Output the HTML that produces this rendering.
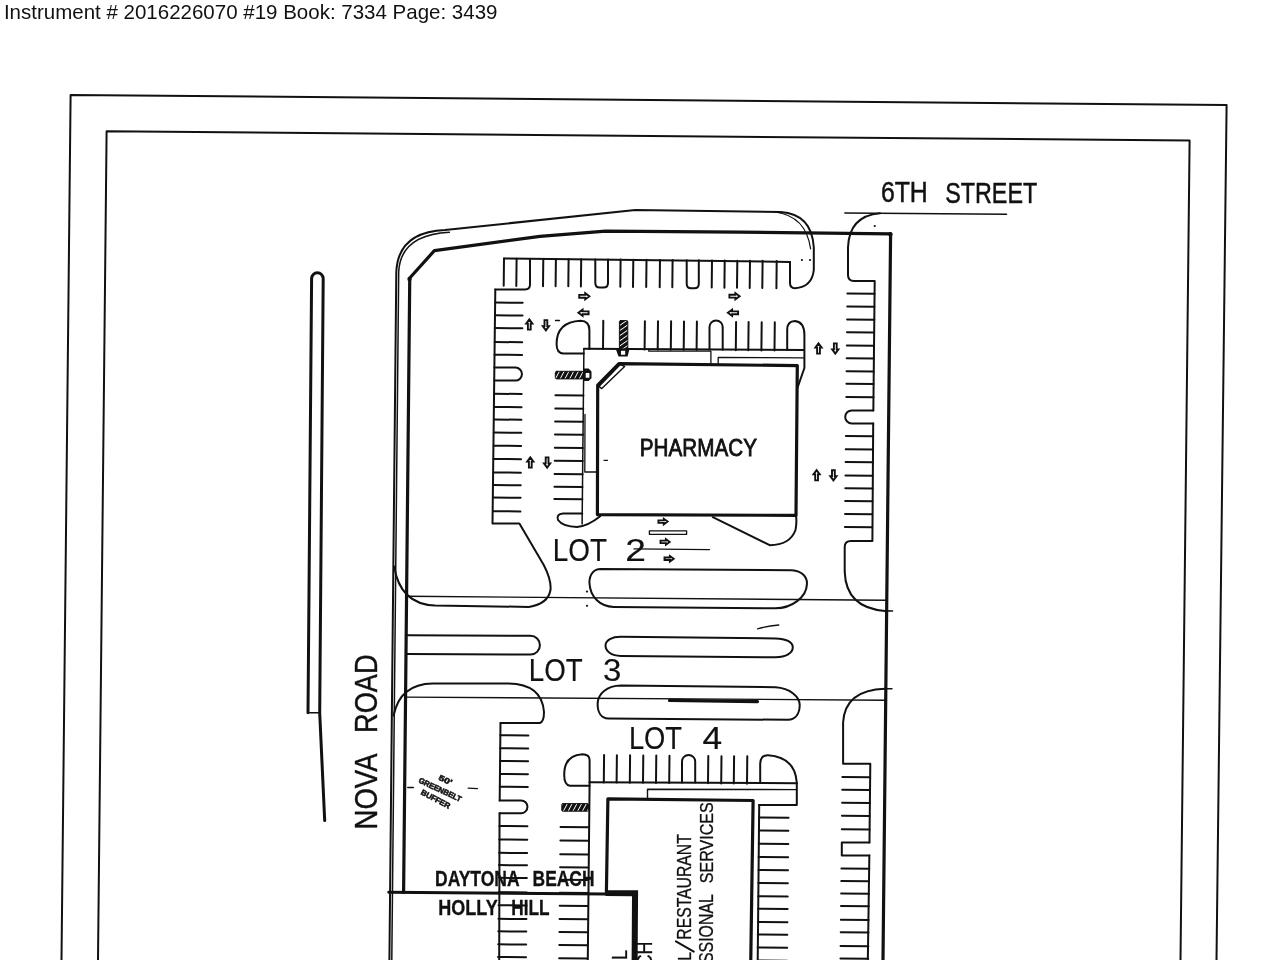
<!DOCTYPE html>
<html><head><meta charset="utf-8"><style>
html,body{margin:0;padding:0;background:#fff;}
body{width:1280px;height:960px;overflow:hidden;}
svg{display:block;filter:grayscale(1);}
</style></head><body>
<svg width="1280" height="960" viewBox="0 0 1280 960">
<defs>
<pattern id="hatchH" patternUnits="userSpaceOnUse" width="4.2" height="4.2" patternTransform="rotate(28)"><rect width="4.2" height="4.2" fill="#111"/><rect x="0" y="0" width="0.9" height="4.2" fill="#fff"/></pattern>
<pattern id="hatchV" patternUnits="userSpaceOnUse" width="4.2" height="4.2" patternTransform="rotate(55)"><rect width="4.2" height="4.2" fill="#111"/><rect x="0" y="0" width="0.9" height="4.2" fill="#fff"/></pattern>
</defs>
<rect width="1280" height="960" fill="#fff"/>
<text x="3.9" y="19.1" font-family="Liberation Sans, sans-serif" font-size="20.2" fill="#111" stroke="none" textLength="493.6" lengthAdjust="spacingAndGlyphs">Instrument # 2016226070 #19 Book: 7334 Page: 3439</text>
<g fill="none" stroke="#111" stroke-linecap="round" stroke-linejoin="round">
<path d="M61.5 960 L70.6 95 L1226.6 105 L1216.5 960" stroke-width="2" fill="none"/>
<path d="M98 960 L106.6 131.2 L1189.6 140.6 L1180.5 960" stroke-width="2" fill="none"/>
<path d="M308 712.8 L311.6 278.6 A5.8 5.8 0 0 1 323.2 278.6 L319.7 712.8 L324.7 820.6" stroke-width="3" fill="none"/>
<line x1="308" y1="712.8" x2="319.7" y2="712.8" stroke-width="1.6"/>
<path d="M389.4 960 L396.3 272 Q398 232 445 230 L635.3 210 L780.6 211.9 Q812 214 813.8 247.5 L813.8 270 Q812 287 795 288.3 Q790 288 790 283 L790 261.9" stroke-width="2" fill="none"/>
<path d="M391.8 960 L398.7 272 Q400.3 235 449.4 232.3" stroke-width="1.5" fill="none"/>
<path d="M775 212 Q806 216 810.6 248.8" stroke-width="1.2" fill="none"/>
<path d="M403.6 892.4 L409.75 278 L434.4 250.6 L540 236.4 L605.6 231.2 L740 232.2 L890.6 233.8 L883 960" stroke-width="3.2" fill="none"/>
<circle cx="409.5" cy="279" r="2.2" fill="#111" stroke="none"/>
<circle cx="890.4" cy="234.2" r="2.2" fill="#111" stroke="none"/>
<line x1="407" y1="596.3" x2="886" y2="600.2" stroke-width="1.4"/>
<line x1="406" y1="697.1" x2="885" y2="700.2" stroke-width="1.4"/>
<line x1="885.5" y1="610.9" x2="892.5" y2="611" stroke-width="1.6"/>
<line x1="885" y1="688.75" x2="891.9" y2="688.75" stroke-width="1.6"/>
<line x1="503.9" y1="258.5" x2="790" y2="261.9" stroke-width="2"/>
<line x1="504" y1="258.6" x2="503.71" y2="285.8" stroke-width="2"/>
<line x1="516.6" y1="258.71" x2="516.31" y2="285.91" stroke-width="2"/>
<line x1="543.3" y1="258.94" x2="543.01" y2="286.14" stroke-width="2"/>
<line x1="555.9" y1="259.05" x2="555.61" y2="286.25" stroke-width="2"/>
<line x1="568.6" y1="259.16" x2="568.31" y2="286.36" stroke-width="2"/>
<line x1="581.2" y1="259.27" x2="580.91" y2="286.47" stroke-width="2"/>
<line x1="620.6" y1="259.61" x2="620.31" y2="286.81" stroke-width="2"/>
<line x1="633.3" y1="259.72" x2="633.01" y2="286.92" stroke-width="2"/>
<line x1="646.5" y1="259.84" x2="646.21" y2="287.04" stroke-width="2"/>
<line x1="660" y1="259.96" x2="659.71" y2="287.16" stroke-width="2"/>
<line x1="672.6" y1="260.07" x2="672.31" y2="287.27" stroke-width="2"/>
<line x1="712" y1="260.41" x2="711.71" y2="287.61" stroke-width="2"/>
<line x1="724.7" y1="260.52" x2="724.41" y2="287.72" stroke-width="2"/>
<line x1="737.3" y1="260.63" x2="737.01" y2="287.83" stroke-width="2"/>
<line x1="750" y1="260.74" x2="749.71" y2="287.94" stroke-width="2"/>
<line x1="762.6" y1="260.85" x2="762.31" y2="288.05" stroke-width="2"/>
<line x1="776.7" y1="260.97" x2="776.41" y2="288.17" stroke-width="2"/>
<path d="M595.3 259.39 L595.3 282.89 Q595.3 287.39 599.8 287.39 L603.5 287.5 Q608 287.5 608 283 L608 259.5" stroke-width="2" fill="none"/>
<path d="M686.7 260.19 L686.7 283.69 Q686.7 288.19 691.2 288.19 L694.3 288.29 Q698.8 288.29 698.8 283.79 L698.8 260.29" stroke-width="2" fill="none"/>
<path d="M530 259.8 L530 284.5 Q530 289.4 525 289.4 L495.3 289.5" stroke-width="2" fill="none"/>
<path d="M495.3 289.5 L492.5 523.5 L519.4 523.5 L543.75 565 Q551.5 580 550.5 590 Q548 604 528.75 606.9 L435 605.6 Q400 604 394.2 566.5" stroke-width="2" fill="none"/>
<line x1="495.16" y1="302.6" x2="522.66" y2="302.84" stroke-width="2"/>
<line x1="495.03" y1="315.3" x2="522.53" y2="315.54" stroke-width="2"/>
<line x1="494.89" y1="328.1" x2="522.39" y2="328.34" stroke-width="2"/>
<line x1="494.75" y1="342" x2="522.25" y2="342.24" stroke-width="2"/>
<line x1="494.62" y1="354.7" x2="522.12" y2="354.94" stroke-width="2"/>
<line x1="494.21" y1="393.75" x2="521.71" y2="393.99" stroke-width="2"/>
<line x1="494.07" y1="406.9" x2="521.57" y2="407.14" stroke-width="2"/>
<line x1="493.94" y1="419.5" x2="521.43" y2="419.74" stroke-width="2"/>
<line x1="493.8" y1="432.6" x2="521.3" y2="432.84" stroke-width="2"/>
<line x1="493.66" y1="445.7" x2="521.16" y2="445.94" stroke-width="2"/>
<line x1="493.52" y1="458.9" x2="521.02" y2="459.14" stroke-width="2"/>
<line x1="493.38" y1="472.4" x2="520.88" y2="472.64" stroke-width="2"/>
<line x1="493.25" y1="485.1" x2="520.75" y2="485.34" stroke-width="2"/>
<line x1="493.12" y1="497.5" x2="520.62" y2="497.74" stroke-width="2"/>
<line x1="492.97" y1="511.2" x2="520.47" y2="511.44" stroke-width="2"/>
<path d="M494.41 367.5 L515.41 367.5 A6.5 6.5 0 0 1 515.41 380.6 L494.41 380.6" stroke-width="2" fill="none"/>
<line x1="583.9" y1="348.8" x2="582.1" y2="524" stroke-width="1.5"/>
<line x1="583.41" y1="395.6" x2="555.41" y2="395.36" stroke-width="2"/>
<line x1="583.27" y1="408.7" x2="555.27" y2="408.46" stroke-width="2"/>
<line x1="583.13" y1="421.7" x2="555.13" y2="421.46" stroke-width="2"/>
<line x1="583" y1="434.8" x2="555" y2="434.56" stroke-width="2"/>
<line x1="582.86" y1="447.9" x2="554.86" y2="447.66" stroke-width="2"/>
<line x1="582.72" y1="461" x2="554.72" y2="460.76" stroke-width="2"/>
<line x1="582.58" y1="474.2" x2="554.58" y2="473.96" stroke-width="2"/>
<line x1="582.45" y1="486.9" x2="554.45" y2="486.66" stroke-width="2"/>
<line x1="582.32" y1="499.3" x2="554.32" y2="499.06" stroke-width="2"/>
<path d="M583.8 353.4 L563 353.4 Q556.6 353 556.6 344 Q556.6 322 580.6 320.8 Q589.4 321 589.4 330 L589.4 349" stroke-width="2" fill="none"/>
<rect x="555.3" y="371.3" width="28" height="7.6" rx="1.5" fill="url(#hatchH)" stroke="#111" stroke-width="1"/>
<path d="M583.4 368.6 L588.6 368.6 L591.5 371.5 L591.5 378.2 L588.6 381 L583.4 381 Z M585.7 373 L585.7 377.7 L589.4 377.7 L589.4 373 Z" fill="#111" fill-rule="evenodd" stroke="none"/>
<path d="M582.3 513.6 L563 513.6 Q556 514 558 520 Q563 526.8 577 527 Q588 526 600.2 516.2" stroke-width="2" fill="none"/>
<path d="M585 414.4 L584.8 472 L597 472" stroke-width="1.3" fill="none"/>
<line x1="583.9" y1="348.8" x2="804" y2="349.9" stroke-width="2"/>
<line x1="603" y1="349.07" x2="603.3" y2="320.77" stroke-width="2"/>
<line x1="644.6" y1="349.43" x2="644.9" y2="321.13" stroke-width="2"/>
<line x1="657.7" y1="349.54" x2="658" y2="321.24" stroke-width="2"/>
<line x1="670.8" y1="349.66" x2="671.1" y2="321.36" stroke-width="2"/>
<line x1="683.7" y1="349.77" x2="684" y2="321.47" stroke-width="2"/>
<line x1="696.6" y1="349.88" x2="696.9" y2="321.58" stroke-width="2"/>
<line x1="735.8" y1="350.22" x2="736.1" y2="321.92" stroke-width="2"/>
<line x1="748.3" y1="350.33" x2="748.6" y2="322.03" stroke-width="2"/>
<line x1="761.4" y1="350.44" x2="761.7" y2="322.14" stroke-width="2"/>
<line x1="774.5" y1="350.56" x2="774.8" y2="322.26" stroke-width="2"/>
<rect x="619.4" y="320.6" width="8.4" height="28.6" rx="1" fill="url(#hatchV)" stroke="#111" stroke-width="1"/>
<path d="M615.6 348.6 L629.6 348.6 L627.6 356.6 L618.5 356.6 Z M621 350.7 L621 354.7 L625.2 354.7 L625.2 350.7 Z" fill="#111" fill-rule="evenodd" stroke="none"/>
<path d="M709.5 349.6 L709.5 327 A6.6 6.6 0 0 1 722.7 327 L722.7 349.7" stroke-width="2" fill="none"/>
<path d="M787.2 349.8 L787.2 330 Q787.2 321 795 321 Q804.4 322 804.4 335 L804.4 368 L797.6 387.5" stroke-width="2" fill="none"/>
<path d="M648.8 349.3 L648.8 351.2 L710.9 351.2 L710.9 364" stroke-width="1.3" fill="none"/>
<path d="M718.2 364.5 L718.2 357.4 L804.2 357.9" stroke-width="1.3" fill="none"/>
<path d="M797.3 365.6 L618.9 363.6 L597.7 385.2 L597.4 514.6 L796 515.4 Z" stroke-width="3.2" fill="none"/>
<path d="M620.3 364.6 L624.6 366.4 L601.8 388.6 L598.9 386.4 Z" stroke-width="1.4" fill="none"/>
<path d="M712.8 517.2 L769.7 545.2 Q790 545 795.5 530 Q797 522 796 515.6" stroke-width="2" fill="none"/>
<path d="M880 213.2 Q849 216 848 247.5 L848 275 Q848 281 854 281 L874.7 281 L873.34 410.4" stroke-width="2" fill="none"/>
<path d="M873.2 423.5 L872.4 541 L851 541 Q844.7 541 844.7 547 L844.7 571.9 Q846 608 885 610.9" stroke-width="2" fill="none"/>
<line x1="874.57" y1="293.75" x2="847.37" y2="293.51" stroke-width="2"/>
<line x1="874.43" y1="306.8" x2="847.23" y2="306.56" stroke-width="2"/>
<line x1="874.29" y1="319.8" x2="847.09" y2="319.56" stroke-width="2"/>
<line x1="874.16" y1="332.5" x2="846.96" y2="332.26" stroke-width="2"/>
<line x1="874.02" y1="345.7" x2="846.82" y2="345.46" stroke-width="2"/>
<line x1="873.89" y1="358.4" x2="846.69" y2="358.16" stroke-width="2"/>
<line x1="873.75" y1="371.6" x2="846.55" y2="371.36" stroke-width="2"/>
<line x1="873.62" y1="384.1" x2="846.42" y2="383.86" stroke-width="2"/>
<line x1="873.48" y1="397.3" x2="846.28" y2="397.06" stroke-width="2"/>
<line x1="873.07" y1="436.3" x2="845.87" y2="436.06" stroke-width="2"/>
<line x1="872.93" y1="449.4" x2="845.73" y2="449.16" stroke-width="2"/>
<line x1="872.8" y1="462.2" x2="845.6" y2="461.96" stroke-width="2"/>
<line x1="872.66" y1="475.7" x2="845.46" y2="475.46" stroke-width="2"/>
<line x1="872.52" y1="488.4" x2="845.32" y2="488.16" stroke-width="2"/>
<line x1="872.39" y1="501.2" x2="845.19" y2="500.96" stroke-width="2"/>
<line x1="872.25" y1="514.3" x2="845.05" y2="514.06" stroke-width="2"/>
<line x1="872.11" y1="527.3" x2="844.91" y2="527.06" stroke-width="2"/>
<path d="M873.27 410.4 L851.77 410.4 A6.5 6.5 0 0 0 851.77 423.5 L873.27 423.5" stroke-width="2" fill="none"/>
<line x1="844.9" y1="213" x2="1006.5" y2="214.3" stroke-width="1.6"/>
<path d="M600.6 569 L791.9 570.3 C802 571 807.5 577 806.9 584.4 C806.5 597 792 608.4 775 608.3 L613.75 606.9 C600 606.5 590 597 589.4 582.5 C589.5 574 594 569 600.6 569 Z" stroke-width="2" fill="none"/>
<path d="M620.9 636.7 L775.6 638.4 C786 638.6 792.8 642 792.8 647.3 C792.8 653 786 657.3 775.6 657.3 L620.9 655.9 C611 655.8 605.5 651 605.5 645.6 C605.5 640 612 636.6 620.9 636.7 Z" stroke-width="2" fill="none"/>
<path d="M407 635.2 L530.5 635.8 A9.4 9.4 0 0 1 530.5 654.6 L407 654" stroke-width="2" fill="none"/>
<path d="M620.9 685.4 L775.5 687.2 C790 688 800 697 799.7 705.5 C799.5 713 796 719.5 788 719.8 L608.4 718.5 C601 718.3 597.6 712 597.6 703.75 C597.6 694 607 685.5 620.9 685.4 Z" stroke-width="2" fill="none"/>
<line x1="669.5" y1="700.4" x2="757.5" y2="701.6" stroke-width="3.2"/>
<path d="M757.5 628.8 Q768 626 778.8 625" stroke-width="1.3" fill="none"/>
<path d="M393.6 715.5 Q400 684 432.7 683.5 L508.4 683.5 Q542 684 544 712 Q544 722 539.8 723 L500.5 723" stroke-width="2" fill="none"/>
<line x1="500.5" y1="723" x2="499.68" y2="800.4" stroke-width="2"/>
<line x1="499.54" y1="813.3" x2="499.2" y2="960" stroke-width="2"/>
<line x1="500.37" y1="735.2" x2="528.37" y2="735.44" stroke-width="2"/>
<line x1="500.24" y1="748.2" x2="528.24" y2="748.44" stroke-width="2"/>
<line x1="500.1" y1="760.9" x2="528.1" y2="761.14" stroke-width="2"/>
<line x1="499.97" y1="773.9" x2="527.97" y2="774.14" stroke-width="2"/>
<line x1="499.83" y1="786.7" x2="527.83" y2="786.94" stroke-width="2"/>
<line x1="499.42" y1="826" x2="527.42" y2="826.24" stroke-width="2"/>
<line x1="499.28" y1="839.5" x2="527.28" y2="839.74" stroke-width="2"/>
<line x1="499.14" y1="852.8" x2="527.14" y2="853.04" stroke-width="2"/>
<line x1="499.01" y1="865.1" x2="527.01" y2="865.34" stroke-width="2"/>
<line x1="498.87" y1="877.8" x2="526.87" y2="878.04" stroke-width="2"/>
<line x1="498.72" y1="892.2" x2="526.72" y2="892.44" stroke-width="2"/>
<line x1="498.59" y1="905.2" x2="526.59" y2="905.44" stroke-width="2"/>
<line x1="498.44" y1="918.8" x2="526.44" y2="919.04" stroke-width="2"/>
<line x1="498.31" y1="931.3" x2="526.31" y2="931.54" stroke-width="2"/>
<line x1="498.18" y1="944.3" x2="526.18" y2="944.54" stroke-width="2"/>
<line x1="498.04" y1="957" x2="526.04" y2="957.24" stroke-width="2"/>
<path d="M499.62 800.4 L521.02 800.4 A6.45 6.45 0 0 1 521.02 813.3 L499.62 813.3" stroke-width="2" fill="none"/>
<line x1="589.6" y1="782.3" x2="587.8" y2="960" stroke-width="2"/>
<line x1="588.53" y1="827.3" x2="560.53" y2="827.06" stroke-width="2"/>
<line x1="588.39" y1="840.8" x2="560.39" y2="840.56" stroke-width="2"/>
<line x1="588.24" y1="854.4" x2="560.24" y2="854.16" stroke-width="2"/>
<line x1="588.11" y1="867.4" x2="560.11" y2="867.16" stroke-width="2"/>
<line x1="587.97" y1="880" x2="559.97" y2="879.76" stroke-width="2"/>
<line x1="587.84" y1="893" x2="559.84" y2="892.76" stroke-width="2"/>
<line x1="587.7" y1="905.9" x2="559.7" y2="905.66" stroke-width="2"/>
<line x1="587.56" y1="919.2" x2="559.56" y2="918.96" stroke-width="2"/>
<line x1="587.42" y1="932.3" x2="559.42" y2="932.06" stroke-width="2"/>
<line x1="587.29" y1="945.2" x2="559.29" y2="944.96" stroke-width="2"/>
<line x1="587.15" y1="958.4" x2="559.15" y2="958.16" stroke-width="2"/>
<path d="M589.6 785.7 L570 785.7 Q564.2 785 564.2 775 Q564.2 755 582.5 754.2 Q589.6 754.5 589.6 760 L589.6 782.3" stroke-width="2" fill="none"/>
<rect x="561.8" y="803.6" width="26.6" height="7.6" rx="1" fill="url(#hatchH)" stroke="#111" stroke-width="1"/>
<line x1="589.6" y1="782.3" x2="796.8" y2="783.2" stroke-width="2"/>
<line x1="603.8" y1="782.42" x2="604.09" y2="755.12" stroke-width="2"/>
<line x1="616.6" y1="782.53" x2="616.89" y2="755.23" stroke-width="2"/>
<line x1="629.8" y1="782.65" x2="630.09" y2="755.35" stroke-width="2"/>
<line x1="643" y1="782.76" x2="643.29" y2="755.46" stroke-width="2"/>
<line x1="656" y1="782.88" x2="656.29" y2="755.58" stroke-width="2"/>
<line x1="669.2" y1="782.99" x2="669.49" y2="755.69" stroke-width="2"/>
<line x1="708" y1="783.33" x2="708.29" y2="756.03" stroke-width="2"/>
<line x1="721.2" y1="783.44" x2="721.49" y2="756.14" stroke-width="2"/>
<line x1="733.8" y1="783.55" x2="734.09" y2="756.25" stroke-width="2"/>
<line x1="747" y1="783.67" x2="747.29" y2="756.37" stroke-width="2"/>
<path d="M682 782.5 L682 761.5 A6.6 6.6 0 0 1 695.2 761.5 L695.2 782.6" stroke-width="2" fill="none"/>
<path d="M760.2 783 L760.2 764 Q760.2 755 768 755.2 Q795 757 796.8 782.7 L796.8 805 L759 805" stroke-width="2" fill="none"/>
<path d="M647.5 799 L647.5 789.2 L796.8 789.6" stroke-width="1.4" fill="none"/>
<path d="M606.4 892 L607.9 798.9 L753.1 800.5 L750.75 962" stroke-width="3.2" fill="none"/>
<line x1="759.2" y1="805" x2="757.7" y2="962" stroke-width="2"/>
<line x1="759.07" y1="817.5" x2="788.57" y2="817.76" stroke-width="2"/>
<line x1="758.93" y1="830.5" x2="788.43" y2="830.76" stroke-width="2"/>
<line x1="758.79" y1="843.75" x2="788.29" y2="844.01" stroke-width="2"/>
<line x1="758.65" y1="857" x2="788.15" y2="857.26" stroke-width="2"/>
<line x1="758.52" y1="870" x2="788.02" y2="870.26" stroke-width="2"/>
<line x1="758.38" y1="883" x2="787.88" y2="883.26" stroke-width="2"/>
<line x1="758.24" y1="896.25" x2="787.74" y2="896.51" stroke-width="2"/>
<line x1="758.11" y1="908.75" x2="787.61" y2="909.01" stroke-width="2"/>
<line x1="757.97" y1="922" x2="787.47" y2="922.26" stroke-width="2"/>
<line x1="757.84" y1="934.5" x2="787.34" y2="934.76" stroke-width="2"/>
<line x1="757.7" y1="947.5" x2="787.2" y2="947.76" stroke-width="2"/>
<line x1="757.57" y1="960.5" x2="787.07" y2="960.76" stroke-width="2"/>
<path d="M885 688.75 Q845 690 843.1 722.5 L843.1 763.75 L870.3 763.75 L869.47 842.6" stroke-width="2" fill="none"/>
<line x1="869.34" y1="855.4" x2="867.8" y2="962" stroke-width="2"/>
<line x1="870.16" y1="777.25" x2="842.36" y2="777.01" stroke-width="2"/>
<line x1="870.02" y1="790" x2="842.22" y2="789.76" stroke-width="2"/>
<line x1="869.89" y1="803.1" x2="842.09" y2="802.86" stroke-width="2"/>
<line x1="869.75" y1="815.9" x2="841.95" y2="815.66" stroke-width="2"/>
<line x1="869.61" y1="829.4" x2="841.81" y2="829.16" stroke-width="2"/>
<line x1="869.2" y1="868.75" x2="841.4" y2="868.51" stroke-width="2"/>
<line x1="869.07" y1="881.25" x2="841.27" y2="881.01" stroke-width="2"/>
<line x1="868.93" y1="893.75" x2="841.13" y2="893.51" stroke-width="2"/>
<line x1="868.8" y1="906.25" x2="841" y2="906.01" stroke-width="2"/>
<line x1="868.66" y1="920" x2="840.86" y2="919.76" stroke-width="2"/>
<line x1="868.53" y1="932.5" x2="840.73" y2="932.26" stroke-width="2"/>
<line x1="868.38" y1="946.25" x2="840.58" y2="946.01" stroke-width="2"/>
<line x1="868.25" y1="958.75" x2="840.45" y2="958.51" stroke-width="2"/>
<path d="M869.4 842.6 L841.8 842.6 L841.8 855.4 L869.4 855.4" stroke-width="2" fill="none"/>
<line x1="388.75" y1="892.3" x2="606" y2="894.1" stroke-width="3"/>
<path d="M605.5 890.3 L638.1 890.3 L637.6 962 L631.6 962 L632 896.2 L605.5 896.1 Z" fill="#111" stroke="none"/>
<path transform="translate(584.3 296.3) rotate(0)" d="M-5.1 -1.4 L0.9 -1.4 L0.9 -3.1 L5.1 0 L0.9 3.1 L0.9 1.4 L-5.1 1.4 Z" stroke-width="1.9" stroke-linejoin="miter" fill="none"/>
<path transform="translate(583.5 312.8) rotate(180)" d="M-5.1 -1.4 L0.9 -1.4 L0.9 -3.1 L5.1 0 L0.9 3.1 L0.9 1.4 L-5.1 1.4 Z" stroke-width="1.9" stroke-linejoin="miter" fill="none"/>
<path transform="translate(734.5 296.2) rotate(0)" d="M-5.1 -1.4 L0.9 -1.4 L0.9 -3.1 L5.1 0 L0.9 3.1 L0.9 1.4 L-5.1 1.4 Z" stroke-width="1.9" stroke-linejoin="miter" fill="none"/>
<path transform="translate(733 312.8) rotate(180)" d="M-5.1 -1.4 L0.9 -1.4 L0.9 -3.1 L5.1 0 L0.9 3.1 L0.9 1.4 L-5.1 1.4 Z" stroke-width="1.9" stroke-linejoin="miter" fill="none"/>
<path transform="translate(529.3 324.5) rotate(270)" d="M-5.1 -1.4 L0.9 -1.4 L0.9 -3.1 L5.1 0 L0.9 3.1 L0.9 1.4 L-5.1 1.4 Z" stroke-width="1.9" stroke-linejoin="miter" fill="none"/>
<path transform="translate(545.9 325.2) rotate(90)" d="M-5.1 -1.4 L0.9 -1.4 L0.9 -3.1 L5.1 0 L0.9 3.1 L0.9 1.4 L-5.1 1.4 Z" stroke-width="1.9" stroke-linejoin="miter" fill="none"/>
<path transform="translate(530.3 462.5) rotate(270)" d="M-5.1 -1.4 L0.9 -1.4 L0.9 -3.1 L5.1 0 L0.9 3.1 L0.9 1.4 L-5.1 1.4 Z" stroke-width="1.9" stroke-linejoin="miter" fill="none"/>
<path transform="translate(547.1 462.5) rotate(90)" d="M-5.1 -1.4 L0.9 -1.4 L0.9 -3.1 L5.1 0 L0.9 3.1 L0.9 1.4 L-5.1 1.4 Z" stroke-width="1.9" stroke-linejoin="miter" fill="none"/>
<path transform="translate(818.5 348.5) rotate(270)" d="M-5.1 -1.4 L0.9 -1.4 L0.9 -3.1 L5.1 0 L0.9 3.1 L0.9 1.4 L-5.1 1.4 Z" stroke-width="1.9" stroke-linejoin="miter" fill="none"/>
<path transform="translate(835.3 348.5) rotate(90)" d="M-5.1 -1.4 L0.9 -1.4 L0.9 -3.1 L5.1 0 L0.9 3.1 L0.9 1.4 L-5.1 1.4 Z" stroke-width="1.9" stroke-linejoin="miter" fill="none"/>
<path transform="translate(816.6 475.3) rotate(270)" d="M-5.1 -1.4 L0.9 -1.4 L0.9 -3.1 L5.1 0 L0.9 3.1 L0.9 1.4 L-5.1 1.4 Z" stroke-width="1.9" stroke-linejoin="miter" fill="none"/>
<path transform="translate(833.4 475.3) rotate(90)" d="M-5.1 -1.4 L0.9 -1.4 L0.9 -3.1 L5.1 0 L0.9 3.1 L0.9 1.4 L-5.1 1.4 Z" stroke-width="1.9" stroke-linejoin="miter" fill="none"/>
<path transform="translate(663 521.6) rotate(0)" d="M-4.59 -1.26 L0.81 -1.26 L0.81 -2.79 L4.59 0 L0.81 2.79 L0.81 1.26 L-4.59 1.26 Z" stroke-width="1.9" stroke-linejoin="miter" fill="none"/>
<path transform="translate(665.1 541.9) rotate(0)" d="M-4.59 -1.26 L0.81 -1.26 L0.81 -2.79 L4.59 0 L0.81 2.79 L0.81 1.26 L-4.59 1.26 Z" stroke-width="1.9" stroke-linejoin="miter" fill="none"/>
<path transform="translate(669.1 558.8) rotate(0)" d="M-4.59 -1.26 L0.81 -1.26 L0.81 -2.79 L4.59 0 L0.81 2.79 L0.81 1.26 L-4.59 1.26 Z" stroke-width="1.9" stroke-linejoin="miter" fill="none"/>
<rect x="649.4" y="530.8" width="37.2" height="3.5" fill="none" stroke-width="1.3"/>
<line x1="634" y1="548.9" x2="709.5" y2="549.6" stroke-width="1.3"/>
<circle cx="801.9" cy="260" r="1.1" fill="#111" stroke="none"/>
<circle cx="810" cy="260" r="1.1" fill="#111" stroke="none"/>
<circle cx="874.75" cy="226" r="1.1" fill="#111" stroke="none"/>
<circle cx="587" cy="591.6" r="1.1" fill="#111" stroke="none"/>
<circle cx="587" cy="605.8" r="1.1" fill="#111" stroke="none"/>
<line x1="555.5" y1="320.5" x2="559.5" y2="320.5" stroke-width="1.3"/>
<line x1="604" y1="460.3" x2="607.5" y2="460.3" stroke-width="1.3"/>
<line x1="407.7" y1="787.5" x2="413.4" y2="787.5" stroke-width="1.3"/>
<line x1="468.2" y1="788.2" x2="477.4" y2="788.6" stroke-width="1.3"/>
<line x1="693.8" y1="951.6" x2="675.9" y2="941.4" stroke-width="2"/>
</g>
<g font-family="Liberation Sans, sans-serif" fill="#111" stroke="none">
<text x="880.90" y="202.20" font-size="29.55" font-weight="normal" textLength="46.88" lengthAdjust="spacingAndGlyphs" stroke="#111" stroke-width="0.5">6TH</text>
<text x="945.20" y="202.50" font-size="29.55" font-weight="normal" textLength="92.03" lengthAdjust="spacingAndGlyphs" stroke="#111" stroke-width="0.5">STREET</text>
<text x="639.75" y="455.75" font-size="23.12" font-weight="normal" textLength="117.18" lengthAdjust="spacingAndGlyphs" stroke="#111" stroke-width="0.8">PHARMACY</text>
<text x="552.70" y="560.50" font-size="32.08" font-weight="normal" textLength="54.22" lengthAdjust="spacingAndGlyphs" stroke="#111" stroke-width="0.15">LOT</text>
<text x="625.30" y="560.50" font-size="30.77" font-weight="normal" textLength="20.68" lengthAdjust="spacingAndGlyphs" stroke="#111" stroke-width="0.15">2</text>
<text x="528.75" y="680.50" font-size="31.36" font-weight="normal" textLength="53.83" lengthAdjust="spacingAndGlyphs" stroke="#111" stroke-width="0.15">LOT</text>
<text x="602.90" y="680.90" font-size="32.07" font-weight="normal" textLength="18.36" lengthAdjust="spacingAndGlyphs" stroke="#111" stroke-width="0.15">3</text>
<text x="628.90" y="748.90" font-size="32.07" font-weight="normal" textLength="53.17" lengthAdjust="spacingAndGlyphs" stroke="#111" stroke-width="0.15">LOT</text>
<text x="702.50" y="749.30" font-size="30.57" font-weight="normal" textLength="19.60" lengthAdjust="spacingAndGlyphs" stroke="#111" stroke-width="0.15">4</text>
<text x="377.30" y="829.50" font-size="32.08" font-weight="normal" textLength="76.10" lengthAdjust="spacingAndGlyphs" transform="rotate(-90 377.30 829.50)" stroke="#111" stroke-width="0.4">NOVA</text>
<text x="376.80" y="733.00" font-size="32.08" font-weight="normal" textLength="78.72" lengthAdjust="spacingAndGlyphs" transform="rotate(-90 376.80 733.00)" stroke="#111" stroke-width="0.4">ROAD</text>
<text x="435.00" y="885.60" font-size="21.55" font-weight="bold" textLength="84.63" lengthAdjust="spacingAndGlyphs" stroke="#111" stroke-width="0.3">DAYTONA</text>
<text x="532.60" y="885.60" font-size="21.55" font-weight="bold" textLength="61.85" lengthAdjust="spacingAndGlyphs" stroke="#111" stroke-width="0.3">BEACH</text>
<text x="438.30" y="914.80" font-size="21.55" font-weight="bold" textLength="59.48" lengthAdjust="spacingAndGlyphs" stroke="#111" stroke-width="0.3">HOLLY</text>
<text x="511.30" y="914.80" font-size="21.55" font-weight="bold" textLength="38.28" lengthAdjust="spacingAndGlyphs" stroke="#111" stroke-width="0.3">HILL</text>
<text x="691.30" y="939.70" font-size="19.63" font-weight="normal" textLength="105.53" lengthAdjust="spacingAndGlyphs" transform="rotate(-90 691.30 939.70)" stroke="#111" stroke-width="0.3">RESTAURANT</text>
<text x="713.00" y="883.20" font-size="18.19" font-weight="normal" textLength="80.97" lengthAdjust="spacingAndGlyphs" transform="rotate(-90 713.00 883.20)" stroke="#111" stroke-width="0.3">SERVICES</text>
<text x="691.30" y="1006.12" font-size="18.91" font-weight="normal" textLength="54.19" lengthAdjust="spacingAndGlyphs" transform="rotate(-90 691.30 1006.12)" stroke="#111" stroke-width="0.3">RETAIL</text>
<text x="713.00" y="1017.72" font-size="19.29" font-weight="normal" textLength="123.57" lengthAdjust="spacingAndGlyphs" transform="rotate(-90 713.00 1017.72)" stroke="#111" stroke-width="0.3">PROFESSIONAL</text>
<text x="651.80" y="1002.97" font-size="21.63" font-weight="normal" textLength="61.33" lengthAdjust="spacingAndGlyphs" transform="rotate(-90 651.80 1002.97)" stroke="#111" stroke-width="0.3">BEACH</text>
<text x="626.70" y="988.06" font-size="21.92" font-weight="normal" textLength="38.12" lengthAdjust="spacingAndGlyphs" transform="rotate(-90 626.70 988.06)" stroke="#111" stroke-width="0.3">HILL</text>
<text x="417.9" y="782.3" font-size="7.9" font-weight="bold" textLength="46.5" lengthAdjust="spacingAndGlyphs" transform="rotate(25 417.9 782.3)" stroke="#111" stroke-width="0.55">GREENBELT</text>
<text x="420.3" y="794" font-size="7.9" font-weight="bold" textLength="32" lengthAdjust="spacingAndGlyphs" transform="rotate(28 420.3 794)" stroke="#111" stroke-width="0.55">BUFFER</text>
<text x="438" y="779.5" font-size="7.9" font-weight="bold" textLength="14" lengthAdjust="spacingAndGlyphs" transform="rotate(25 438 779.5)" stroke="#111" stroke-width="0.55">50&#39;</text>
</g>
</svg>
</body></html>
